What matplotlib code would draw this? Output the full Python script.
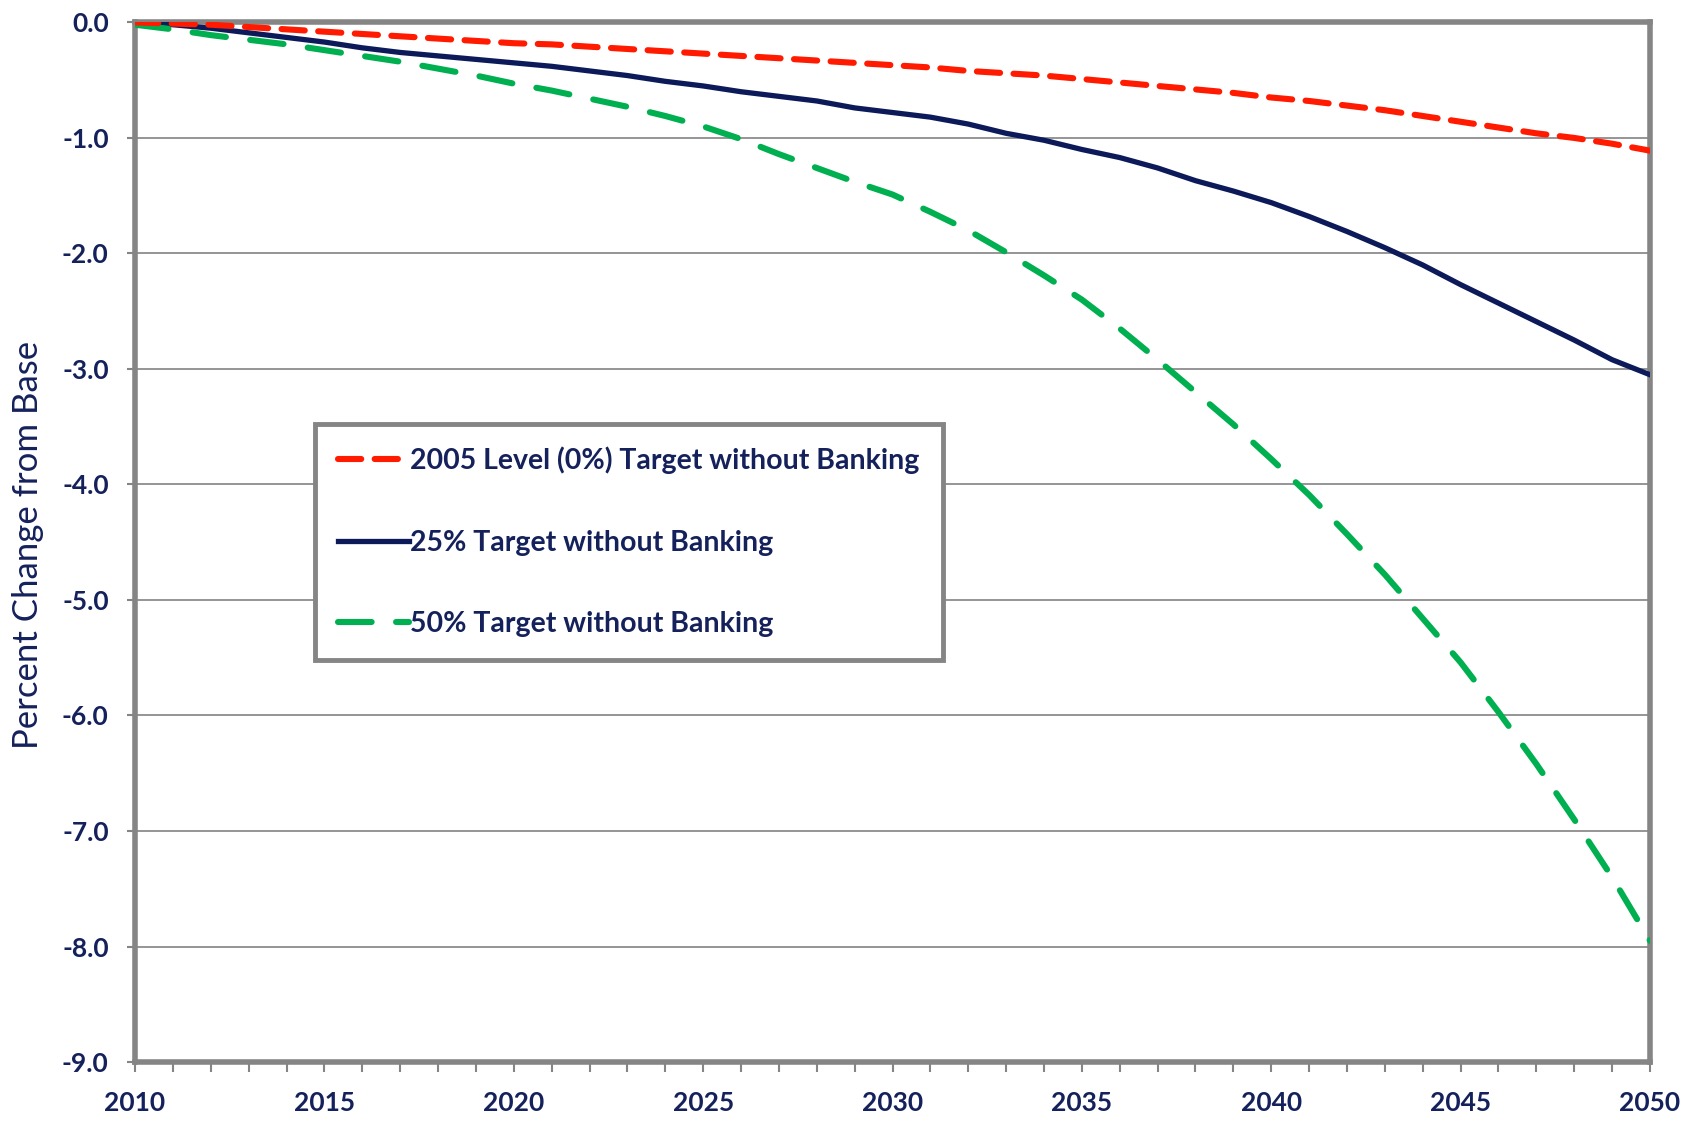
import matplotlib
matplotlib.use("Agg")
import matplotlib.pyplot as plt
from matplotlib.ticker import MultipleLocator

plt.rcParams['font.family'] = ['Lato', 'DejaVu Sans']

# years 2010..2050
years = list(range(2010, 2051))

# 2005 Level (0%) Target without Banking
red_vals = [0.00, -0.01, -0.02, -0.04, -0.06, -0.08, -0.10, -0.12, -0.14, -0.16,
            -0.18, -0.19, -0.21, -0.23, -0.25, -0.27, -0.29, -0.31, -0.33, -0.35,
            -0.37, -0.39, -0.42, -0.44, -0.46, -0.49, -0.52, -0.55, -0.58, -0.61,
            -0.65, -0.68, -0.72, -0.76, -0.81, -0.86, -0.91, -0.96, -1.00, -1.05,
            -1.11]
# 25% Target without Banking
navy_vals = [0.00, -0.02, -0.05, -0.09, -0.13, -0.17, -0.22, -0.26, -0.29, -0.32,
             -0.35, -0.38, -0.42, -0.46, -0.51, -0.55, -0.60, -0.64, -0.68, -0.74,
             -0.78, -0.82, -0.88, -0.96, -1.02, -1.10, -1.17, -1.26, -1.37, -1.46,
             -1.56, -1.68, -1.81, -1.95, -2.10, -2.27, -2.43, -2.59, -2.75, -2.92,
             -3.05]
# 50% Target without Banking
green_vals = [-0.02, -0.06, -0.11, -0.15, -0.19, -0.24, -0.29, -0.34, -0.40, -0.46,
              -0.53, -0.59, -0.66, -0.73, -0.81, -0.90, -1.01, -1.14, -1.26, -1.38,
              -1.49, -1.64, -1.80, -1.99, -2.19, -2.40, -2.65, -2.92, -3.20, -3.48,
              -3.78, -4.09, -4.43, -4.78, -5.16, -5.54, -5.97, -6.42, -6.90, -7.40,
              -7.95]

labels = ['2005 Level (0%) Target without Banking',
          '25% Target without Banking',
          '50% Target without Banking']

txt = '#15215b'
gray = '#858585'

fig = plt.figure(figsize=(17.01, 11.21), dpi=100)
ax = fig.add_axes([0.0794, 0.0526, 0.8906, 0.9274])

l1, = ax.plot(years, red_vals, color='#ff1a00', lw=4.4, dashes=(3.8, 2.2),
              dash_capstyle='round', label=labels[0], zorder=4)
l2, = ax.plot(years, navy_vals, color='#0c1a5a', lw=3.8, label=labels[1], zorder=3)
l3, = ax.plot(years, green_vals, color='#00b050', lw=4.4, dashes=(5.5, 4.0),
              dash_capstyle='round', label=labels[2], zorder=3)

ax.set_xlim(2010, 2050)
ax.set_ylim(-9, 0)
ax.xaxis.set_major_locator(MultipleLocator(5))
ax.xaxis.set_minor_locator(MultipleLocator(1))
ax.yaxis.set_major_locator(MultipleLocator(1))
ax.yaxis.set_major_formatter(lambda v, p: f"{v:.1f}")

ax.grid(axis='y', color='#8c8c8c', lw=1.3)
ax.set_axisbelow(True)

for s in ax.spines.values():
    s.set_color(gray)
    s.set_linewidth(4)

ax.tick_params(axis='x', which='both', direction='out', length=7, width=1.5,
               color=gray, pad=14, labelsize=19, labelcolor=txt)
ax.tick_params(axis='y', direction='out', length=6, width=1.5, color=gray,
               pad=13, labelsize=19, labelcolor=txt)
for t in ax.get_xticklabels() + ax.get_yticklabels():
    t.set_fontweight('bold')

ax.set_ylabel('Percent Change from Base', fontsize=25, color=txt)
ax.yaxis.set_label_coords(-0.060, 0.497)

leg = ax.legend(handles=[l1, l2, l3], loc='upper left',
                bbox_to_anchor=(0.1188, 0.614),
                prop={'weight': 'bold', 'size': 20.5},
                handlelength=2.5, handletextpad=0.05, labelspacing=1.95,
                borderpad=0.8, borderaxespad=0, fancybox=False,
                framealpha=1, edgecolor=gray)
leg.get_frame().set_linewidth(3.5)
for t in leg.get_texts():
    t.set_color(txt)

fig.savefig('out.png', dpi=100)
